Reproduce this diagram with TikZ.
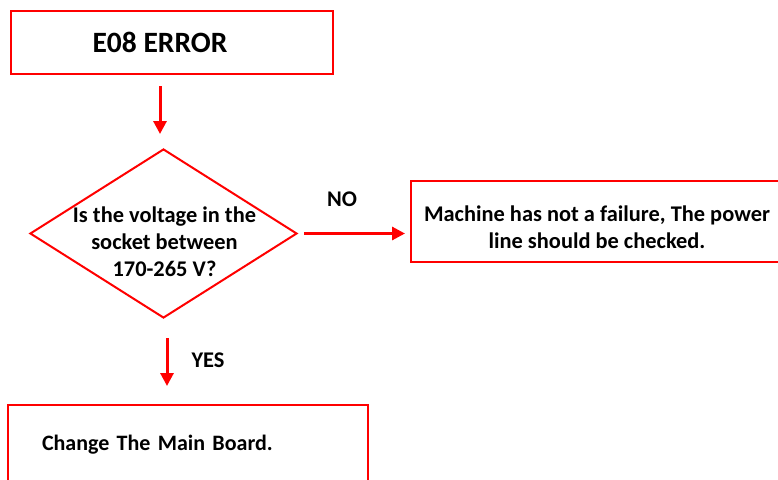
\documentclass[tikz,border=0pt]{standalone}
\usepackage{fontspec}
\setmainfont{Carlito}
\usetikzlibrary{shapes.geometric,arrows.meta,calc}
\definecolor{fcred}{RGB}{255,0,0}
\tikzset{
  box/.style={draw=fcred, line width=2pt, rectangle, inner sep=0pt},
  dia/.style={draw=fcred, line width=2pt, diamond, inner sep=0pt},
  txt/.style={font=\fontsize{22.4}{27}\selectfont\bfseries, text=black, align=center},
  arr/.style={draw=fcred, line width=3pt, -{Triangle[length=13pt,width=13pt]}},
}
\begin{document}
\begin{tikzpicture}[x=1pt,y=-1pt]
\useasboundingbox (0,0) rectangle (778,479);
\clip (0,0) rectangle (778,479);
% top box
\node[box, minimum width=322pt, minimum height=63pt, font=\fontsize{29.5}{33}\selectfont\bfseries] (top) at (172,42.5) {E08 ERROR\rule{24pt}{0pt}};
% decision
\node[dia, minimum width=267pt, minimum height=169pt] (q) at (163.5,233.5) {};
\node[txt] (qtext) at (164.5,242) {Is the voltage in the\\socket between\\170-265 V?};
% no branch
\node[box, minimum width=400pt, minimum height=81pt] (right) at (611,221.5) {};
\node[txt] (righttext) at (597,227) {Machine has not a failure, The power\\line should be checked.};
\node[txt] (nolabel) at (342,199) {NO};
% yes branch
\node[box, minimum width=360pt, minimum height=84pt, txt, text width=292pt, align=left, font=\fontsize{22}{27}\selectfont\bfseries] (bottom) at (188,447) {\raisebox{8pt}{Change The Main Board.}};
\node[txt] (yeslabel) at (208,360) {YES};
% connectors
\draw[arr, shorten <=11pt, shorten >=14pt] ([xshift=-12pt]top.south) -- ([xshift=-12pt]top.south |- q.north);
\draw[arr, shorten <=6pt, shorten >=5pt] (q.east) -- (q.east -| right.west);
\draw[arr, shorten <=19pt, shorten >=18pt] ([xshift=3.5pt]q.south) -- ([xshift=3.5pt]q.south |- bottom.north);
\end{tikzpicture}
\end{document}
